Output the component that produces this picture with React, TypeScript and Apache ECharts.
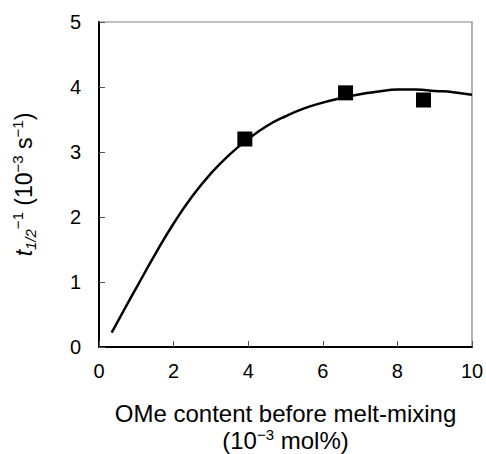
import React, { useEffect, useRef } from "react";
import * as echarts from "echarts";

const curveX = [0.34, 0.7, 1.0, 1.5, 2.0, 2.5, 3.0, 3.5, 4.0, 4.5, 5.0, 5.5, 6.0, 6.5, 7.0, 7.5, 8.0, 8.5, 9.0, 9.5, 10.0];
const curveY = [0.22, 0.6, 0.91, 1.42, 1.9, 2.32, 2.67, 2.96, 3.2, 3.4, 3.55, 3.67, 3.76, 3.83, 3.89, 3.93, 3.96, 3.96, 3.94, 3.92, 3.88];

const pointX = [3.91, 6.61, 8.7];
const pointY = [3.2, 3.91, 3.8];

const FONT = "'Liberation Sans', Arial, sans-serif";

export default function App() {
  const ref = useRef<HTMLDivElement>(null);
  useEffect(() => {
    if (!ref.current) return;
    const chart = echarts.init(ref.current, null, { renderer: "svg" });
    chart.setOption({
      animation: false,
      backgroundColor: "#fff",
      textStyle: { fontFamily: FONT },
      grid: {
        left: 99,
        right: 14,
        top: 22,
        bottom: 107,
        show: true,
        borderColor: "#808080",
        borderWidth: 1.2,
        containLabel: false,
        outerBoundsMode: "none",
      },
      xAxis: {
        type: "value",
        min: 0,
        max: 10,
        interval: 2,
        splitLine: { show: false },
        axisLine: { show: true, lineStyle: { color: "#000", width: 2 } },
        axisTick: { show: true, inside: true, length: 6, lineStyle: { color: "#555", width: 1 } },
        axisLabel: { color: "#000", fontSize: 20, fontFamily: FONT, margin: 14 },
        name: "{n|OMe content before melt-mixing}\n{n|(10}{sup|\u22123}{n| mol%)}",
        nameLocation: "middle",
        nameGap: 53,
        nameTextStyle: {
          color: "#000",
          fontFamily: FONT,
          rich: {
            n: { fontSize: 24, lineHeight: 27, color: "#000", fontFamily: FONT },
            sup: { fontSize: 15, lineHeight: 27, verticalAlign: "top", color: "#000", fontFamily: FONT },
          },
        },
      },
      yAxis: {
        type: "value",
        min: 0,
        max: 5,
        interval: 1,
        splitLine: { show: false },
        axisLine: { show: true, lineStyle: { color: "#000", width: 2 } },
        axisTick: { show: true, inside: true, length: 6, lineStyle: { color: "#555", width: 1 } },
        axisLabel: { color: "#000", fontSize: 20, fontFamily: FONT, margin: 18 },
        name: "{it|t}{sub|1/2}{sup|\u22121}{n| (10}{sup|\u22123}{n| s}{sup|\u22121}{n|)}",
        nameLocation: "middle",
        nameRotate: 90,
        nameGap: 61,
        nameTextStyle: {
          color: "#000",
          fontFamily: FONT,
          rich: {
            n: { fontSize: 23, lineHeight: 28, color: "#000", fontFamily: FONT },
            it: { fontSize: 23, lineHeight: 28, fontStyle: "italic", color: "#000", fontFamily: FONT },
            sub: { fontSize: 15, lineHeight: 17, verticalAlign: "bottom", fontStyle: "italic", color: "#000", fontFamily: FONT },
            sup: { fontSize: 15, lineHeight: 17, verticalAlign: "top", color: "#000", fontFamily: FONT },
          },
        },
      },
      series: [
        {
          type: "line",
          data: curveX.map((x, i) => [x, curveY[i]]),
          smooth: 0.5,
          showSymbol: false,
          symbol: "none",
          lineStyle: { color: "#000", width: 2.5 },
          z: 2,
        },
        {
          type: "scatter",
          data: pointX.map((x, i) => [x, pointY[i]]),
          symbol: "rect",
          symbolSize: 15,
          itemStyle: { color: "#000", opacity: 1 },
          z: 3,
        },
      ],
    });
    return () => chart.dispose();
  }, []);
  return (
    <div
      ref={ref}
      style={{ position: "fixed", left: 0, top: 0, width: 486, height: 454, background: "#fff" }}
    />
  );
}
